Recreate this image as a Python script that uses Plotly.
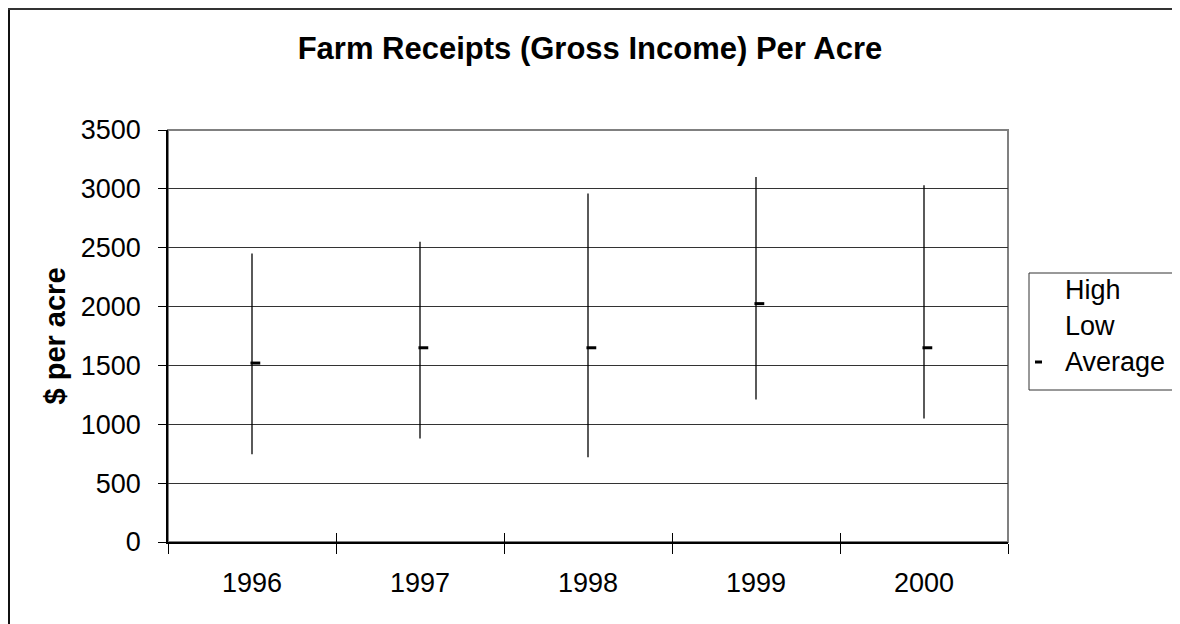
import plotly.graph_objects as go

years = ["1996", "1997", "1998", "1999", "2000"]
high = [2450, 2550, 2960, 3100, 3030]
low = [745, 880, 720, 1210, 1050]
average = [1520, 1650, 1650, 2025, 1650]
y_ticks = [0, 500, 1000, 1500, 2000, 2500, 3000, 3500]
legend_labels = ["High", "Low", "Average"]

FONT = "Liberation Sans, Arial, sans-serif"

# high-low connector lines built from the data
hl_x, hl_y = [], []
for yr, h, l in zip(years, high, low):
    hl_x += [yr, yr, None]
    hl_y += [l, h, None]

idx = list(range(len(years)))
avg_offset = 0.02  # Excel draws the close tick slightly to the right

fig = go.Figure()
fig.add_trace(go.Scatter(x=hl_x, y=hl_y, mode="lines", line=dict(color="black", width=1.3),
                         showlegend=False, hoverinfo="skip"))
fig.add_trace(go.Scatter(x=years, y=high, name="High", mode="markers", showlegend=False,
                         marker=dict(color="rgba(0,0,0,0)", size=1)))
fig.add_trace(go.Scatter(x=years, y=low, name="Low", mode="markers", showlegend=False,
                         marker=dict(color="rgba(0,0,0,0)", size=1)))
fig.add_trace(go.Scatter(x=[i + avg_offset for i in idx], y=average, name="Average", mode="markers",
                         xaxis="x2", showlegend=False,
                         marker=dict(symbol="line-ew", size=7, line=dict(color="black", width=3))))

# manual legend (pixel offsets relative to the plot area's top-left corner)
annotations = []
for k, lab in enumerate(legend_labels):
    annotations.append(dict(text=lab, xref="paper", yref="paper", x=0, y=1,
                            xshift=895, yshift=-160 - 36 * k, xanchor="left", yanchor="middle",
                            showarrow=False, font=dict(size=27, family=FONT, color="black")))

fig.update_layout(
    width=1180, height=624,
    margin=dict(l=160, r=180, t=122, b=90),
    paper_bgcolor="white", plot_bgcolor="white",
    font=dict(family=FONT, color="black", size=27),
    showlegend=False,
    title=dict(text="<b>Farm Receipts (Gross Income) Per Acre</b>", x=(590 - 8) / 1180, xref="container",
               xanchor="center", y=1 - 40 / 624, yref="container", yanchor="middle",
               font=dict(size=31, family=FONT, color="black")),
    xaxis=dict(type="category", categoryorder="array", categoryarray=years,
               range=[-0.5, len(years) - 0.5], tickson="boundaries", ticks="outside",
               ticklen=10, tickcolor="black", tickwidth=1, showgrid=False,
               showline=True, linecolor="black", linewidth=1.5,
               tickfont=dict(size=27), ticklabelstandoff=16),
    xaxis2=dict(overlaying="x", anchor="y", side="bottom", range=[-0.5, len(years) - 0.5],
                tickvals=[i - 0.5 for i in range(len(years) + 1)], ticks="inside",
                ticklen=9, tickcolor="black", showticklabels=False, showgrid=False,
                showline=False, zeroline=False),
    yaxis=dict(range=[0, 3500], tickvals=y_ticks, ticks="outside", ticklen=8,
               tickcolor="black", showgrid=True, gridcolor="#333333", gridwidth=1,
               showline=True, linecolor="black", linewidth=1.5, zeroline=False,
               tickfont=dict(size=27), ticklabelstandoff=12,
               title=dict(text="<b>$ per acre</b>", font=dict(size=29, family=FONT), standoff=7)),
    annotations=annotations,
    shapes=[
        # plot area border (gray)
        dict(type="rect", xref="paper", yref="paper", x0=0, x1=1, y0=0, y1=1,
             line=dict(color="#808080", width=2), layer="below"),
        # outer chart border (left and top edges visible)
        dict(type="line", xref="paper", yref="paper", xanchor=0, yanchor=1,
             xsizemode="pixel", ysizemode="pixel", x0=-159, x1=-159, y0=121, y1=-530,
             line=dict(color="#111111", width=2)),
        dict(type="line", xref="paper", yref="paper", xanchor=0, yanchor=1,
             xsizemode="pixel", ysizemode="pixel", x0=-160, x1=1060, y0=121, y1=121,
             line=dict(color="#333333", width=2)),
        # legend box
        dict(type="rect", xref="paper", yref="paper", xanchor=0, yanchor=1,
             xsizemode="pixel", ysizemode="pixel", x0=861, x1=1009, y0=-143, y1=-260,
             line=dict(color="#333333", width=1), fillcolor="white", layer="below"),
        # legend symbol for Average
        dict(type="line", xref="paper", yref="paper", xanchor=0, yanchor=1,
             xsizemode="pixel", ysizemode="pixel", x0=867, x1=874, y0=-232, y1=-232,
             line=dict(color="black", width=3)),
    ],
)

fig.write_html("out.html")
